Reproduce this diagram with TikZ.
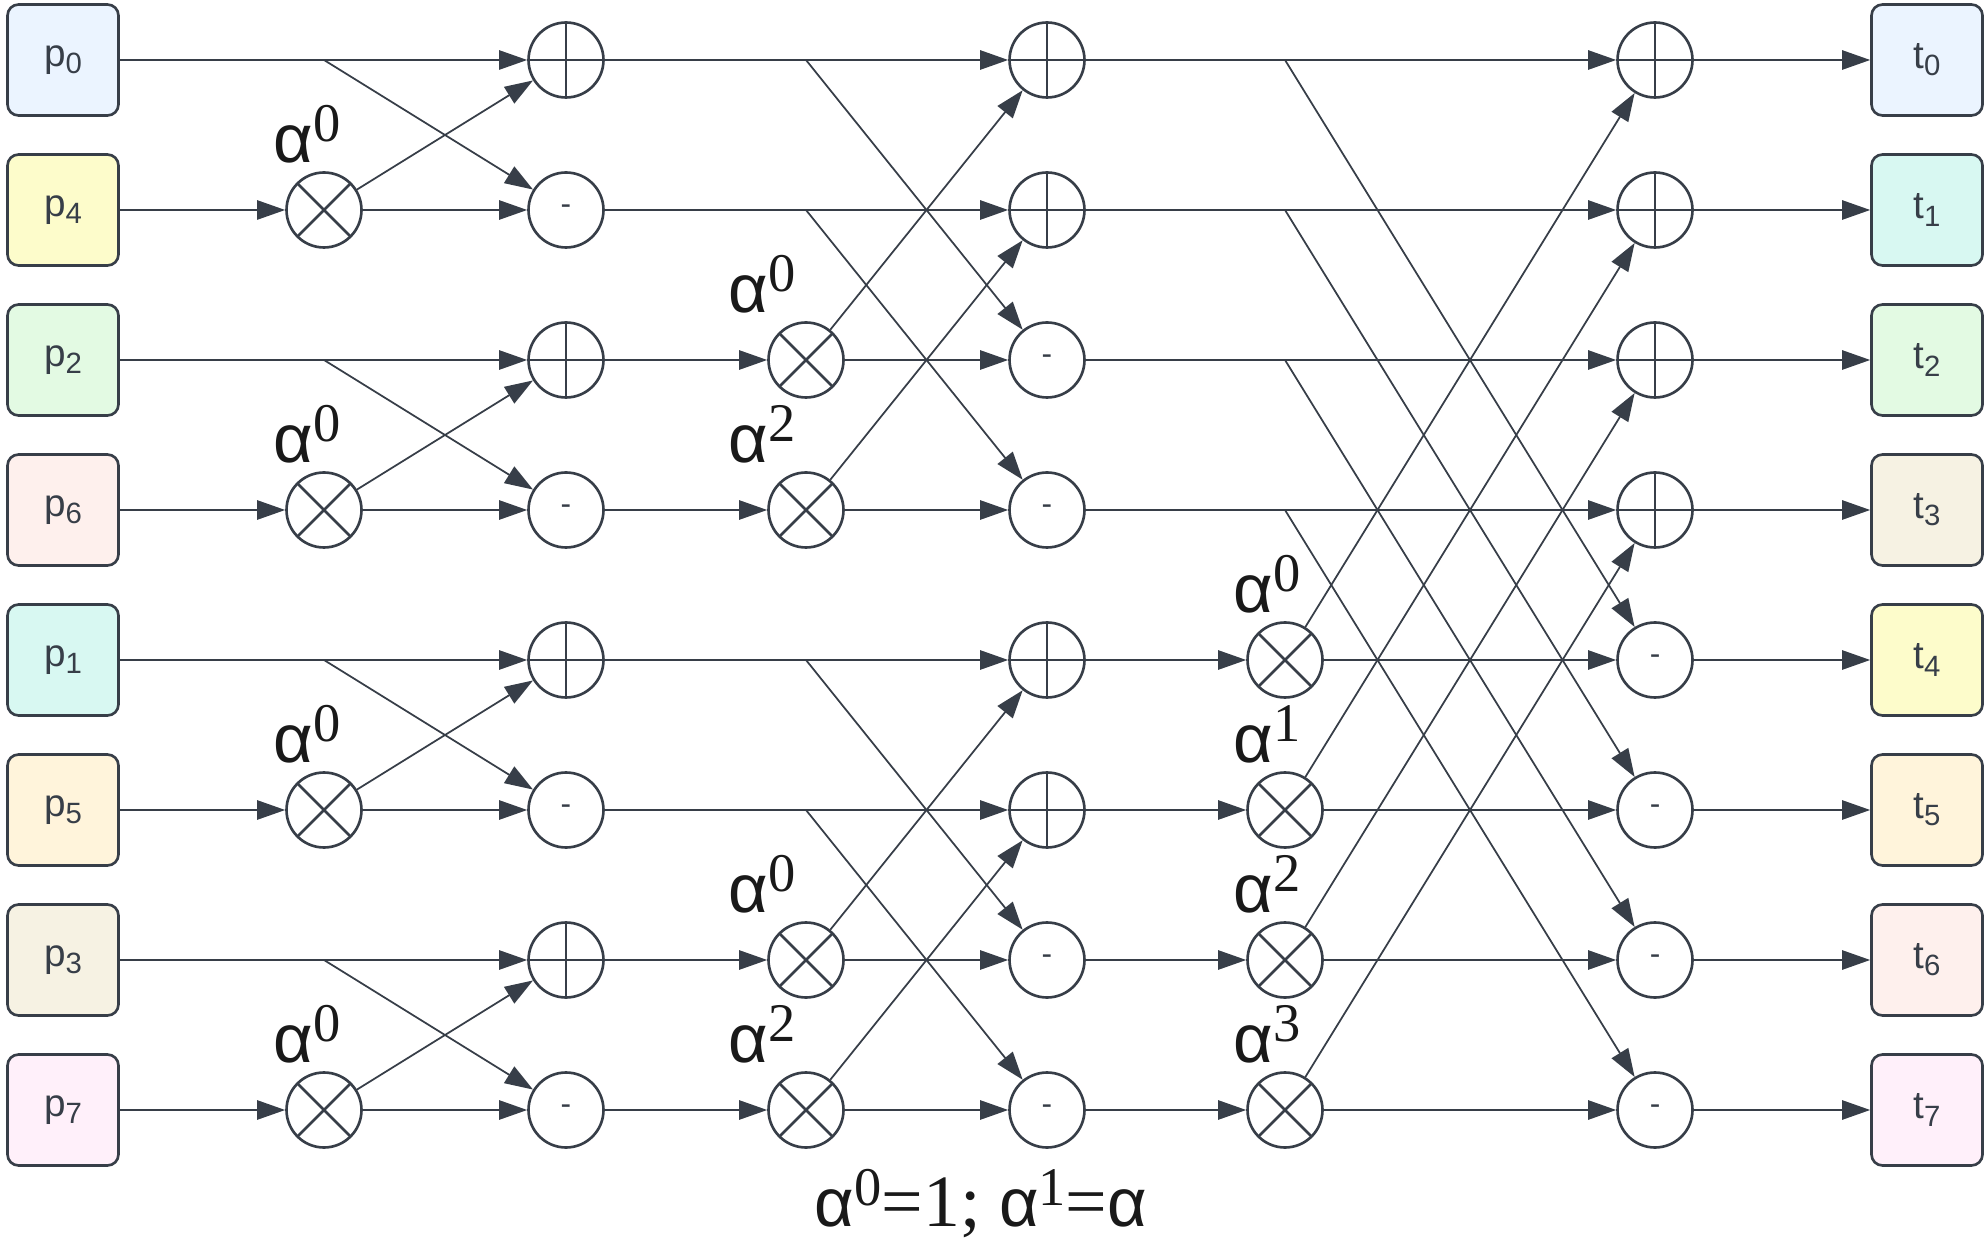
\documentclass[tikz,border=0pt]{standalone}
\usepackage{fontspec}
\setmainfont{Liberation Sans}
\newfontfamily\numfont{Liberation Serif}
\usetikzlibrary{arrows.meta}

\definecolor{ink}{RGB}{55,62,72}
\definecolor{c0}{HTML}{EBF4FF}
\definecolor{c1}{HTML}{D8F8F2}
\definecolor{c2}{HTML}{E3FAE3}
\definecolor{c3}{HTML}{F6F2E3}
\definecolor{c4}{HTML}{FDFCCB}
\definecolor{c5}{HTML}{FFF4DB}
\definecolor{c6}{HTML}{FEF0ED}
\definecolor{c7}{HTML}{FFF0FA}

% letter with a lowered index
\newcommand{\sig}[2]{#1\raisebox{-4pt}{\fontsize{16.7}{17}\selectfont #2}}
% power of alpha
\newcommand{\apow}[1]{{\fontsize{39}{39}\selectfont α}\raisebox{11.5pt}{\numfont\fontsize{31}{31}\selectfont #1}}

\tikzset{
  box/.style={draw=ink, line width=1.5pt, rounded corners=0.22cm, minimum size=2.22cm,
    inner sep=0, text=ink, font=\fontsize{22}{22}\selectfont},
  op/.style={circle, draw=ink, line width=1.5pt, minimum size=1.5cm, inner sep=0, fill=white},
  addop/.style={op, path picture={\draw[ink, line width=1.5pt]
    (path picture bounding box.north) -- (path picture bounding box.south)
    (path picture bounding box.west) -- (path picture bounding box.east);}},
  mulop/.style={op, path picture={\draw[ink, line width=1.5pt]
    (path picture bounding box.north west) -- (path picture bounding box.south east)
    (path picture bounding box.south west) -- (path picture bounding box.north east);}},
  subop/.style={op, text=ink, font=\fontsize{18}{18}\selectfont},
  powlabel/.style={anchor=south, inner sep=0, text={rgb,255:red,25;green,25;blue,25}},
  arr/.style={draw=ink, line width=1pt, -{Triangle[length=16pt,width=11pt]}}
}

\begin{document}
\begin{tikzpicture}[x=0.02cm,y=-0.02cm]
\useasboundingbox (0,0) rectangle (1988,1239);

% inputs and outputs
\foreach \p [count=\r from 0] in {0,4,2,6,1,5,3,7}{
  \node[box, fill=c\p] (p\r) at (63,60+150*\r) {\sig{p}{\p}};
  \node[box, fill=c\r] (t\r) at (1927,60+150*\r) {\sig{t}{\r}};
}

% stage 1
\foreach \r/\s in {0/1,2/3,4/5,6/7}{
  \node[addop] (a\r) at (566,60+150*\r) {};
  \coordinate (b\r) at (324,60+150*\r);
  \node[subop] (a\s) at (566,60+150*\s) {-};
  \node[mulop] (m\s) at (324,60+150*\s) {};
  \node[powlabel] (l\s) at ([shift={(-17,-8)}]m\s.north) {\apow{0}};
  \draw[arr] (p\r) -- (a\r);
  \draw[arr] (b\r) -- (a\s);
  \draw[arr] (p\s) -- (m\s);
  \draw[arr] (m\s) -- (a\s);
  \draw[arr] (m\s) -- (a\r);
}

% stage 2
\foreach \r/\s/\k in {0/2/0,1/3/2,4/6/0,5/7/2}{
  \node[addop] (c\r) at (1047,60+150*\r) {};
  \coordinate (d\r) at (806,60+150*\r);
  \node[subop] (c\s) at (1047,60+150*\s) {-};
  \node[mulop] (n\s) at (806,60+150*\s) {};
  \node[powlabel] (q\s) at ([shift={(-44,-8)}]n\s.north) {\apow{\k}};
  \draw[arr] (a\r) -- (c\r);
  \draw[arr] (d\r) -- (c\s);
  \draw[arr] (a\s) -- (n\s);
  \draw[arr] (n\s) -- (c\s);
  \draw[arr] (n\s) -- (c\r);
}

% stage 3
\foreach \r/\s/\k in {0/4/0,1/5/1,2/6/2,3/7/3}{
  \node[addop] (e\r) at (1655,60+150*\r) {};
  \coordinate (f\r) at (1285,60+150*\r);
  \node[subop] (e\s) at (1655,60+150*\s) {-};
  \node[mulop] (k\s) at (1285,60+150*\s) {};
  \node[powlabel] (g\s) at ([shift={(-18,-8)}]k\s.north) {\apow{\k}};
  \draw[arr] (c\r) -- (e\r);
  \draw[arr] (f\r) -- (e\s);
  \draw[arr] (c\s) -- (k\s);
  \draw[arr] (k\s) -- (e\s);
  \draw[arr] (k\s) -- (e\r);
}

\foreach \r in {0,...,7}
  \draw[arr] (e\r) -- (t\r);

\node[anchor=base, inner sep=0, text={rgb,255:red,25;green,25;blue,25}] (note) at (981,1226)
  {\apow{0}{\numfont\fontsize{42}{42}\selectfont =1; }\apow{1}{\numfont\fontsize{42}{42}\selectfont =}{\fontsize{39}{39}\selectfont α}};
\end{tikzpicture}
\end{document}
